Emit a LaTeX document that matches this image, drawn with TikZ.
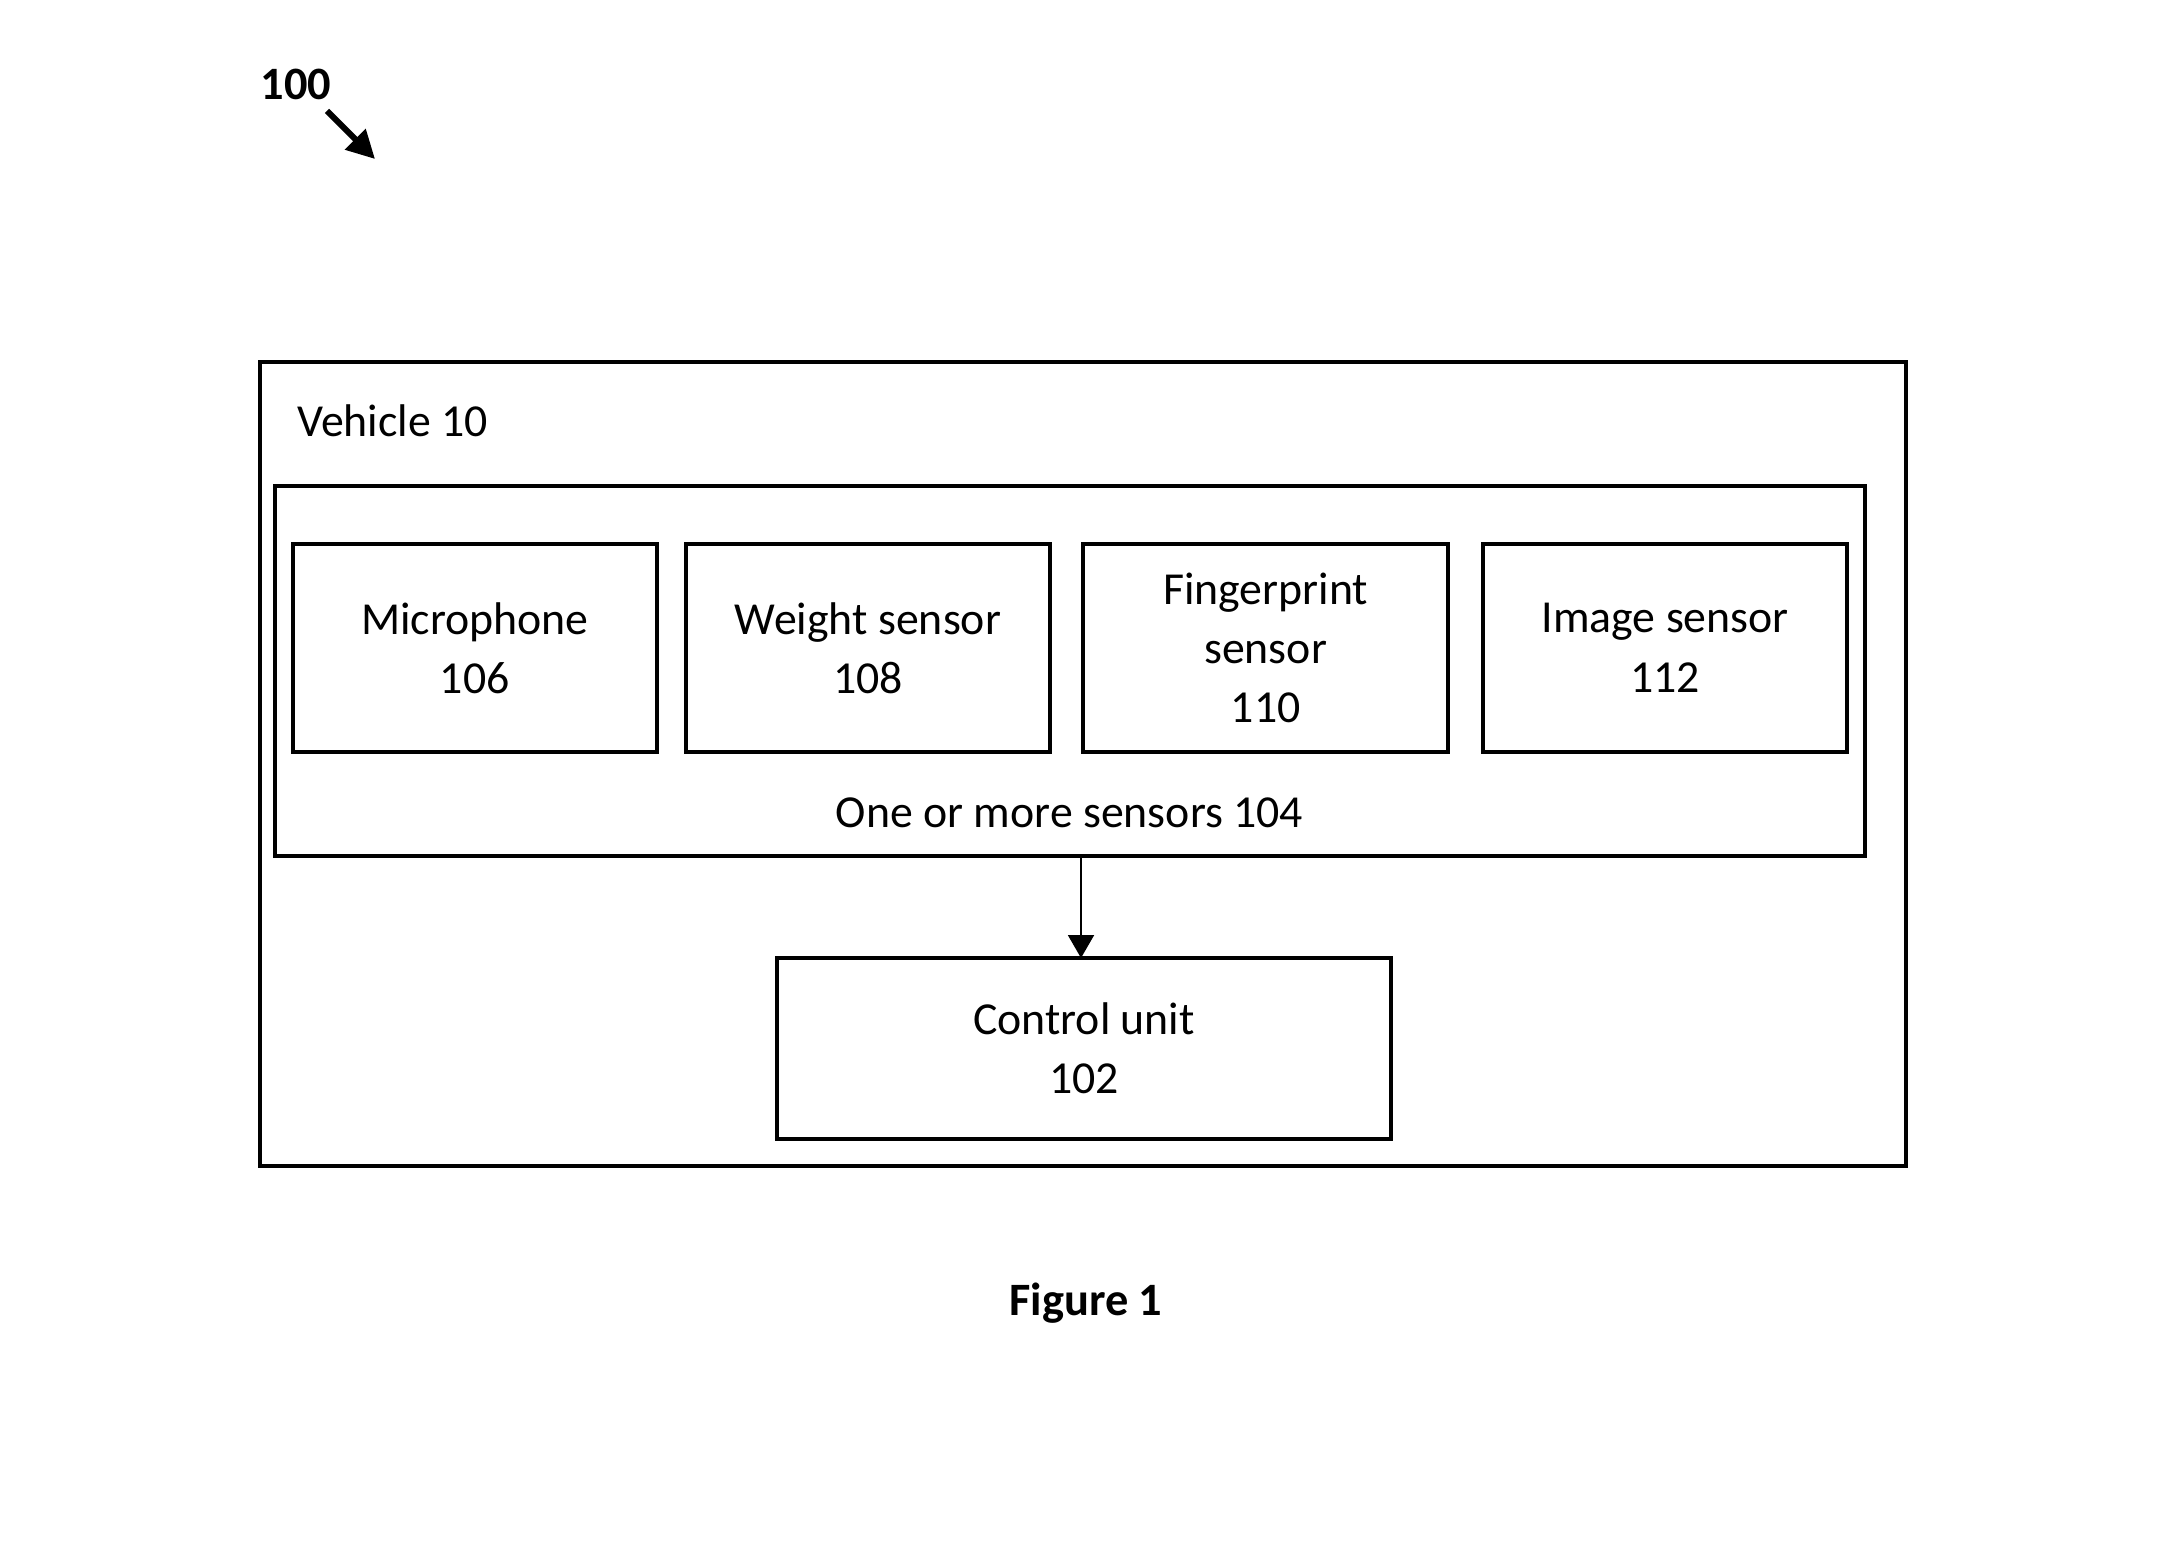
\documentclass[tikz,border=0pt]{standalone}
\usepackage{fontspec}
\setmainfont{Carlito}
\usetikzlibrary{arrows.meta}
\begin{document}
\begin{tikzpicture}[x=0.5pt,y=-0.5pt,
  box/.style={draw,line width=2pt,inner sep=0pt,outer sep=0pt,align=center,
    font=\fontsize{22.9}{29.7}\selectfont},
  sensorbox/.style={box,minimum width=182.2pt,minimum height=104.2pt},
  lbl/.style={inner sep=0pt,font=\fontsize{22.9}{29.7}\selectfont},
  boldlbl/.style={inner sep=0pt,font=\fontsize{23.2}{29.7}\selectfont\bfseries}]
\useasboundingbox (0,0) rectangle (2164,1551);
\node[box,minimum width=823.25pt,minimum height=402.2pt] (vehicle) at (1082.75,763.8) {};
\node[lbl,anchor=west] (vlabel) at (297,421) {Vehicle 10};
\node[box,minimum width=795pt,minimum height=185pt] (sensors) at (1069.65,670.75) {};
\node[lbl] (slabel) at (1069.5,813) {One or more sensors 104};
\node[sensorbox] (mic) at (474.8,648) {Microphone\\106};
\node[sensorbox] (weight) at (868,648) {Weight sensor\\108};
\node[sensorbox] (finger) at (1265.6,648) {Fingerprint\\sensor\\110};
\node[sensorbox] (image) at (1665.2,648) {Image sensor\\112};
\node[box,minimum width=307pt,minimum height=90.3pt] (ctrl) at (1084,1048.3) {Control unit\\102};
\draw[line width=1pt,-{Triangle[length=11.5pt,width=13pt]}] ([xshift=-1.5pt]sensors.south -| ctrl.north) -- ([xshift=-1.5pt]ctrl.north);
\node[boldlbl] (ref) at (296,84.5) {100};
\coordinate (refstart) at (327,111);
\coordinate (refend) at (375,159);
\draw[line width=3pt,-{Triangle[length=14pt,width=14pt]}] (refstart) -- (refend);
\node[boldlbl] (fig) at (1086,1303) {Figure 1};
\end{tikzpicture}
\end{document}
